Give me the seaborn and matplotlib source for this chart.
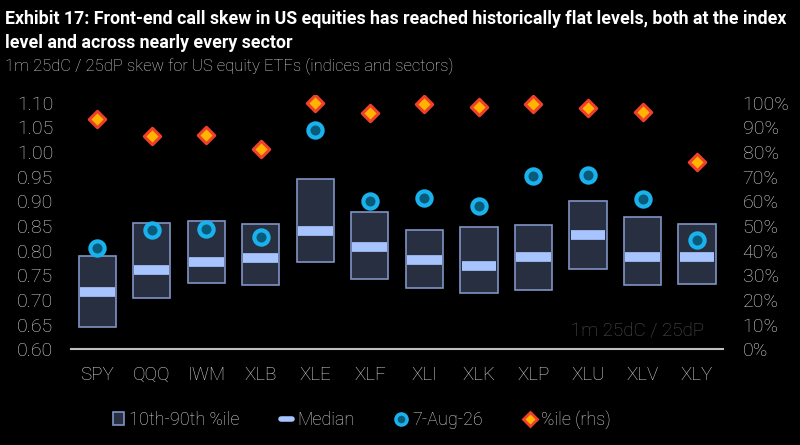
import matplotlib
matplotlib.use("Agg")
import matplotlib.pyplot as plt
from matplotlib.lines import Line2D
from matplotlib.patches import Patch
import seaborn as sns
import pandas as pd
import numpy as np

tickers = ["SPY", "QQQ", "IWM", "XLB", "XLE", "XLF", "XLI", "XLK", "XLP", "XLU", "XLV", "XLY"]
p10 = [0.645, 0.704, 0.734, 0.730, 0.777, 0.743, 0.724, 0.715, 0.721, 0.763, 0.730, 0.732]
p90 = [0.790, 0.857, 0.861, 0.853, 0.945, 0.878, 0.841, 0.847, 0.852, 0.901, 0.868, 0.855]
median = [0.717, 0.761, 0.776, 0.786, 0.839, 0.807, 0.782, 0.768, 0.787, 0.832, 0.788, 0.787]
current = [0.805, 0.842, 0.844, 0.828, 1.045, 0.900, 0.907, 0.891, 0.952, 0.953, 0.905, 0.822]
pctile = [93.4, 86.5, 86.8, 81.1, 99.8, 95.7, 99.4, 98.1, 99.5, 97.7, 96.0, 76.0]

df = pd.DataFrame({"ticker": tickers, "p10": p10, "p90": p90, "median": median,
                   "current": current, "pctile": pctile})
df["x"] = np.arange(len(df))
df["range"] = df["p90"] - df["p10"]

sns.set_theme(style="dark")
plt.rcParams["font.family"] = ["Roboto", "DejaVu Sans"]

BG = "black"
TXT = "#d9d9d9"
BOX_FACE = "#282f40"
BOX_EDGE = "#7f93c4"
MED = "#a8c4ff"
CIRC_FACE = "#0a5a7a"
CIRC_EDGE = "#1ab2ec"
DIA_FACE = "#ffb400"
DIA_EDGE = "#f0402a"

fig = plt.figure(figsize=(8, 4.45), dpi=100, facecolor=BG)
ax = fig.add_axes([0.089, 0.215, 0.815, 0.571])
ax.set_facecolor(BG)

ymin, ymax = 0.6, 1.115
bw = 0.68
ax.bar(df["x"], df["range"], bottom=df["p10"], width=bw, color=BOX_FACE,
       edgecolor=BOX_EDGE, linewidth=1.2, zorder=2)
ax.hlines(df["median"], df["x"] - bw / 2 + 0.02, df["x"] + bw / 2 - 0.02,
          colors=MED, linewidth=7, zorder=3)
sns.scatterplot(data=df, x="x", y="current", ax=ax, marker="o", s=105,
                color=CIRC_FACE, edgecolor=CIRC_EDGE, linewidth=3, zorder=4, legend=False)

ax.set_xlim(-0.48, len(df) - 0.52)
ax.set_ylim(ymin, ymax)
yt = np.arange(0.60, 1.101, 0.05)
ax.set_yticks(yt)
ax.set_yticklabels([f"{v:.2f}" for v in yt], fontweight="light")
ax.set_xticks(df["x"])
ax.set_xticklabels(df["ticker"], fontweight="light")
ax.set_xlabel("")
ax.set_ylabel("")
ax.grid(False)
for s in ["top", "right", "left"]:
    ax.spines[s].set_visible(False)
ax.spines["bottom"].set_color("#bfbfbf")
ax.spines["bottom"].set_linewidth(1.5)
ax.tick_params(axis="both", colors=TXT, labelsize=14, length=0)
ax.tick_params(axis="x", pad=12, labelsize=13.5)
ax.tick_params(axis="y", pad=13)

ax2 = ax.twinx()
ax2.set_ylim(0, (ymax - ymin) / 0.5 * 100)
sns.scatterplot(data=df, x="x", y="pctile", ax=ax2, marker="D", s=70,
                color=DIA_FACE, edgecolor=DIA_EDGE, linewidth=2.2, zorder=5, legend=False)
ax2.set_yticks(np.arange(0, 101, 10))
ax2.set_yticklabels([f"{v}%" for v in range(0, 101, 10)], fontweight="light")
ax2.set_ylabel("")
ax2.grid(False)
for s in ["top", "right", "left", "bottom"]:
    ax2.spines[s].set_visible(False)
ax2.tick_params(axis="y", colors=TXT, labelsize=14, length=0, pad=14)
ax.set_xlim(-0.48, len(df) - 0.52)

ax.text(0.97, 0.04, "1m 25dC / 25dP", transform=ax.transAxes, ha="right", va="bottom",
        color="#555555", fontsize=13.5, fontweight="light")

fig.text(0.006, 0.945, "Exhibit 17: Front-end call skew in US equities has reached historically flat levels, both at the index",
         color="white", fontsize=12.8, fontweight="bold", ha="left", va="baseline")
fig.text(0.006, 0.893, "level and across nearly every sector",
         color="white", fontsize=12.8, fontweight="bold", ha="left", va="baseline")
fig.text(0.006, 0.84, "1m 25dC / 25dP skew for US equity ETFs (indices and sectors)",
         color=TXT, fontsize=12, fontweight="light", ha="left", va="baseline")

handles = [
    Patch(facecolor=BOX_FACE, edgecolor=BOX_EDGE, linewidth=1.2, label="10th-90th %ile"),
    Line2D([], [], color=MED, linewidth=4, label="Median"),
    Line2D([], [], marker="o", linestyle="", markersize=8, markerfacecolor=CIRC_FACE,
           markeredgecolor=CIRC_EDGE, markeredgewidth=2.5, label="7-Aug-26"),
    Line2D([], [], marker="D", linestyle="", markersize=7, markerfacecolor=DIA_FACE,
           markeredgecolor=DIA_EDGE, markeredgewidth=2, label="%ile (rhs)"),
]
leg = fig.legend(handles=handles, loc="center", bbox_to_anchor=(0.452, 0.057), ncol=4,
                 frameon=False, prop={"size": 13, "weight": "light"},
                 handlelength=0.6, handletextpad=0.3, columnspacing=2.3)
for t in leg.get_texts():
    t.set_color(TXT)

fig.savefig("out.png", dpi=100, facecolor=BG)
